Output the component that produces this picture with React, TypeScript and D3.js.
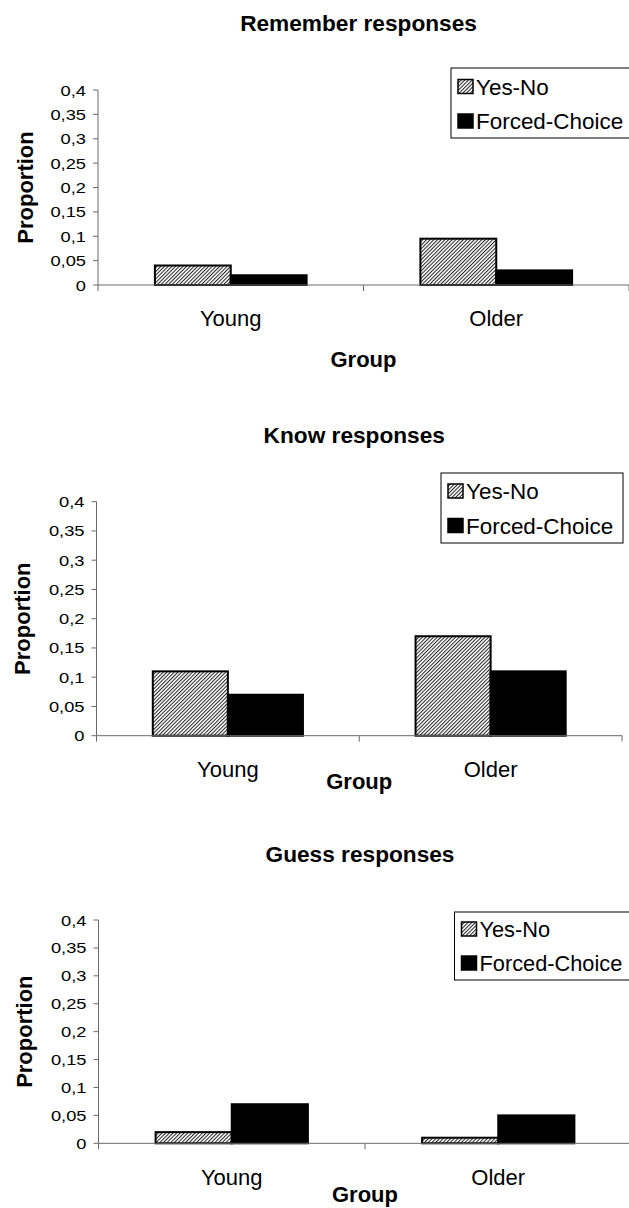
import React from "react";
import * as d3 from "d3";

// Categories, series and tick labels
const groups = ["Young", "Older"];
const seriesNames = ["Yes-No", "Forced-Choice"];
const yTickValues = [0, 0.05, 0.1, 0.15, 0.2, 0.25, 0.3, 0.35, 0.4];
const yTickLabels = ["0", "0,05", "0,1", "0,15", "0,2", "0,25", "0,3", "0,35", "0,4"];

// Proportions per group (Young, Older)
const rememberYesNo = [0.04, 0.095];
const rememberForced = [0.02, 0.03];
const knowYesNo = [0.11, 0.17];
const knowForced = [0.07, 0.11];
const guessYesNo = [0.02, 0.01];
const guessForced = [0.07, 0.05];

const panelTitles = ["Remember responses", "Know responses", "Guess responses"];
const xAxisTitle = "Group";
const yAxisTitle = "Proportion";

const FONT = "'Liberation Sans', Arial, Helvetica, sans-serif";
const W = 629;
const H = 1208;

type Geom = {
  left: number;
  right: number;
  top: number;
  bottom: number;
  titleY: number;
  catY: number;
  groupY: number;
  propX: number;
  lx: number;
  ly: number;
  lw: number;
  lh: number;
  row1: number;
  row2: number;
  lsx: number;
};

const layouts: Geom[] = [
  { left: 98, right: 629, top: 90, bottom: 285, titleY: 31, catY: 325.5, groupY: 367, propX: 25, lx: 451, ly: 68, lw: 190, lh: 70, row1: 94.5, row2: 129, lsx: 1.02 },
  { left: 96.5, right: 622, top: 501.7, bottom: 735.7, titleY: 442.5, catY: 776.5, groupY: 788.5, propX: 22, lx: 441, ly: 473, lw: 182, lh: 70, row1: 499, row2: 533.5, lsx: 1.02 },
  { left: 98.5, right: 631.5, top: 920, bottom: 1143.3, titleY: 861.5, catY: 1185, groupY: 1201.5, propX: 23.5, lx: 454.5, ly: 912, lw: 190, lh: 68, row1: 937, row2: 971, lsx: 0.99 },
];

const panelData = [
  [rememberYesNo, rememberForced],
  [knowYesNo, knowForced],
  [guessYesNo, guessForced],
];

const fills = ["url(#hatch)", "#000"];

function SText({ x, y, sx = 1, anchor = "middle", size, weight = "normal", children, rotate = 0 }: any) {
  return (
    <text
      transform={`translate(${x},${y}) rotate(${rotate}) scale(${sx},1)`}
      textAnchor={anchor}
      fontFamily={FONT}
      fontSize={size}
      fontWeight={weight}
      fill="#000"
    >
      {children}
    </text>
  );
}

function Panel({ g, title, values }: { g: Geom; title: string; values: number[][] }) {
  const y = d3.scaleLinear().domain([0, 0.4]).range([g.bottom, g.top]);
  const x = d3
    .scaleBand<string>()
    .domain(groups)
    .range([g.left, g.right])
    .paddingInner(1.5 / 3.5)
    .paddingOuter(0.75 / 3.5);
  const xs = d3.scaleBand<string>().domain(seriesNames).range([0, x.bandwidth()]);
  const step = (g.right - g.left) / groups.length;
  const boundaries = d3.range(groups.length + 1).map((i) => g.left + i * step);
  const axisColor = "#6a6a6a";

  return (
    <g>
      <SText x={(g.left + g.right) / 2 - 5} y={g.titleY} size={22} weight="bold" sx={1.03}>
        {title}
      </SText>

      {/* bars */}
      {groups.map((grp, gi) =>
        seriesNames.map((s, si) => {
          const v = values[si][gi];
          const bx = (x(grp) as number) + (xs(s) as number);
          return (
            <rect
              key={grp + s}
              x={bx}
              y={y(v)}
              width={xs.bandwidth()}
              height={g.bottom - y(v)}
              fill={fills[si]}
              stroke="#000"
              strokeWidth={2}
            />
          );
        })
      )}

      {/* y axis */}
      <line x1={g.left} x2={g.left} y1={g.top} y2={g.bottom} stroke={axisColor} strokeWidth={1} />
      {yTickValues.map((t, i) => (
        <g key={t}>
          <line x1={g.left - 5} x2={g.left} y1={y(t)} y2={y(t)} stroke={axisColor} strokeWidth={1} />
          <SText x={g.left - 12} y={y(t) + 5.5} anchor="end" size={15} sx={1.22}>
            {yTickLabels[i]}
          </SText>
        </g>
      ))}

      {/* x axis */}
      <line x1={g.left} x2={g.right} y1={g.bottom} y2={g.bottom} stroke={axisColor} strokeWidth={1} />
      {boundaries.map((bx, i) => (
        <line key={i} x1={bx} x2={bx} y1={g.bottom} y2={g.bottom + 6} stroke={axisColor} strokeWidth={1} />
      ))}
      {groups.map((grp) => (
        <SText key={grp} x={(x(grp) as number) + x.bandwidth() / 2} y={g.catY} size={22}>
          {grp}
        </SText>
      ))}
      <SText x={g.left + step} y={g.groupY} size={22} weight="bold">
        {xAxisTitle}
      </SText>
      <SText x={g.propX + 8} y={(g.top + g.bottom) / 2} size={22} weight="bold" rotate={-90}>
        {yAxisTitle}
      </SText>

      {/* legend */}
      <rect x={g.lx} y={g.ly} width={g.lw} height={g.lh} fill="#fff" stroke="#000" strokeWidth={1} />
      {seriesNames.map((s, si) => {
        const by = si === 0 ? g.row1 : g.row2;
        return (
          <g key={s}>
            <rect x={g.lx + 7} y={by - 15} width={15} height={14} fill={fills[si]} stroke="#000" strokeWidth={1.5} />
            <SText x={g.lx + 25} y={by} anchor="start" size={22} sx={g.lsx}>
              {s}
            </SText>
          </g>
        );
      })}
    </g>
  );
}

export default function App() {
  return (
    <svg
      width={W}
      height={H}
      viewBox={`0 0 ${W} ${H}`}
      style={{ position: "absolute", left: 0, top: 0, background: "#fff" }}
    >
      <defs>
        <pattern id="hatch" patternUnits="userSpaceOnUse" width={2.6} height={2.6} patternTransform="rotate(45)">
          <rect width={2.6} height={2.6} fill="#fff" />
          <rect width={1} height={2.6} fill="#222" />
        </pattern>
      </defs>
      <rect width={W} height={H} fill="#fff" />
      {layouts.map((g, i) => (
        <Panel key={i} g={g} title={panelTitles[i]} values={panelData[i]} />
      ))}
    </svg>
  );
}
